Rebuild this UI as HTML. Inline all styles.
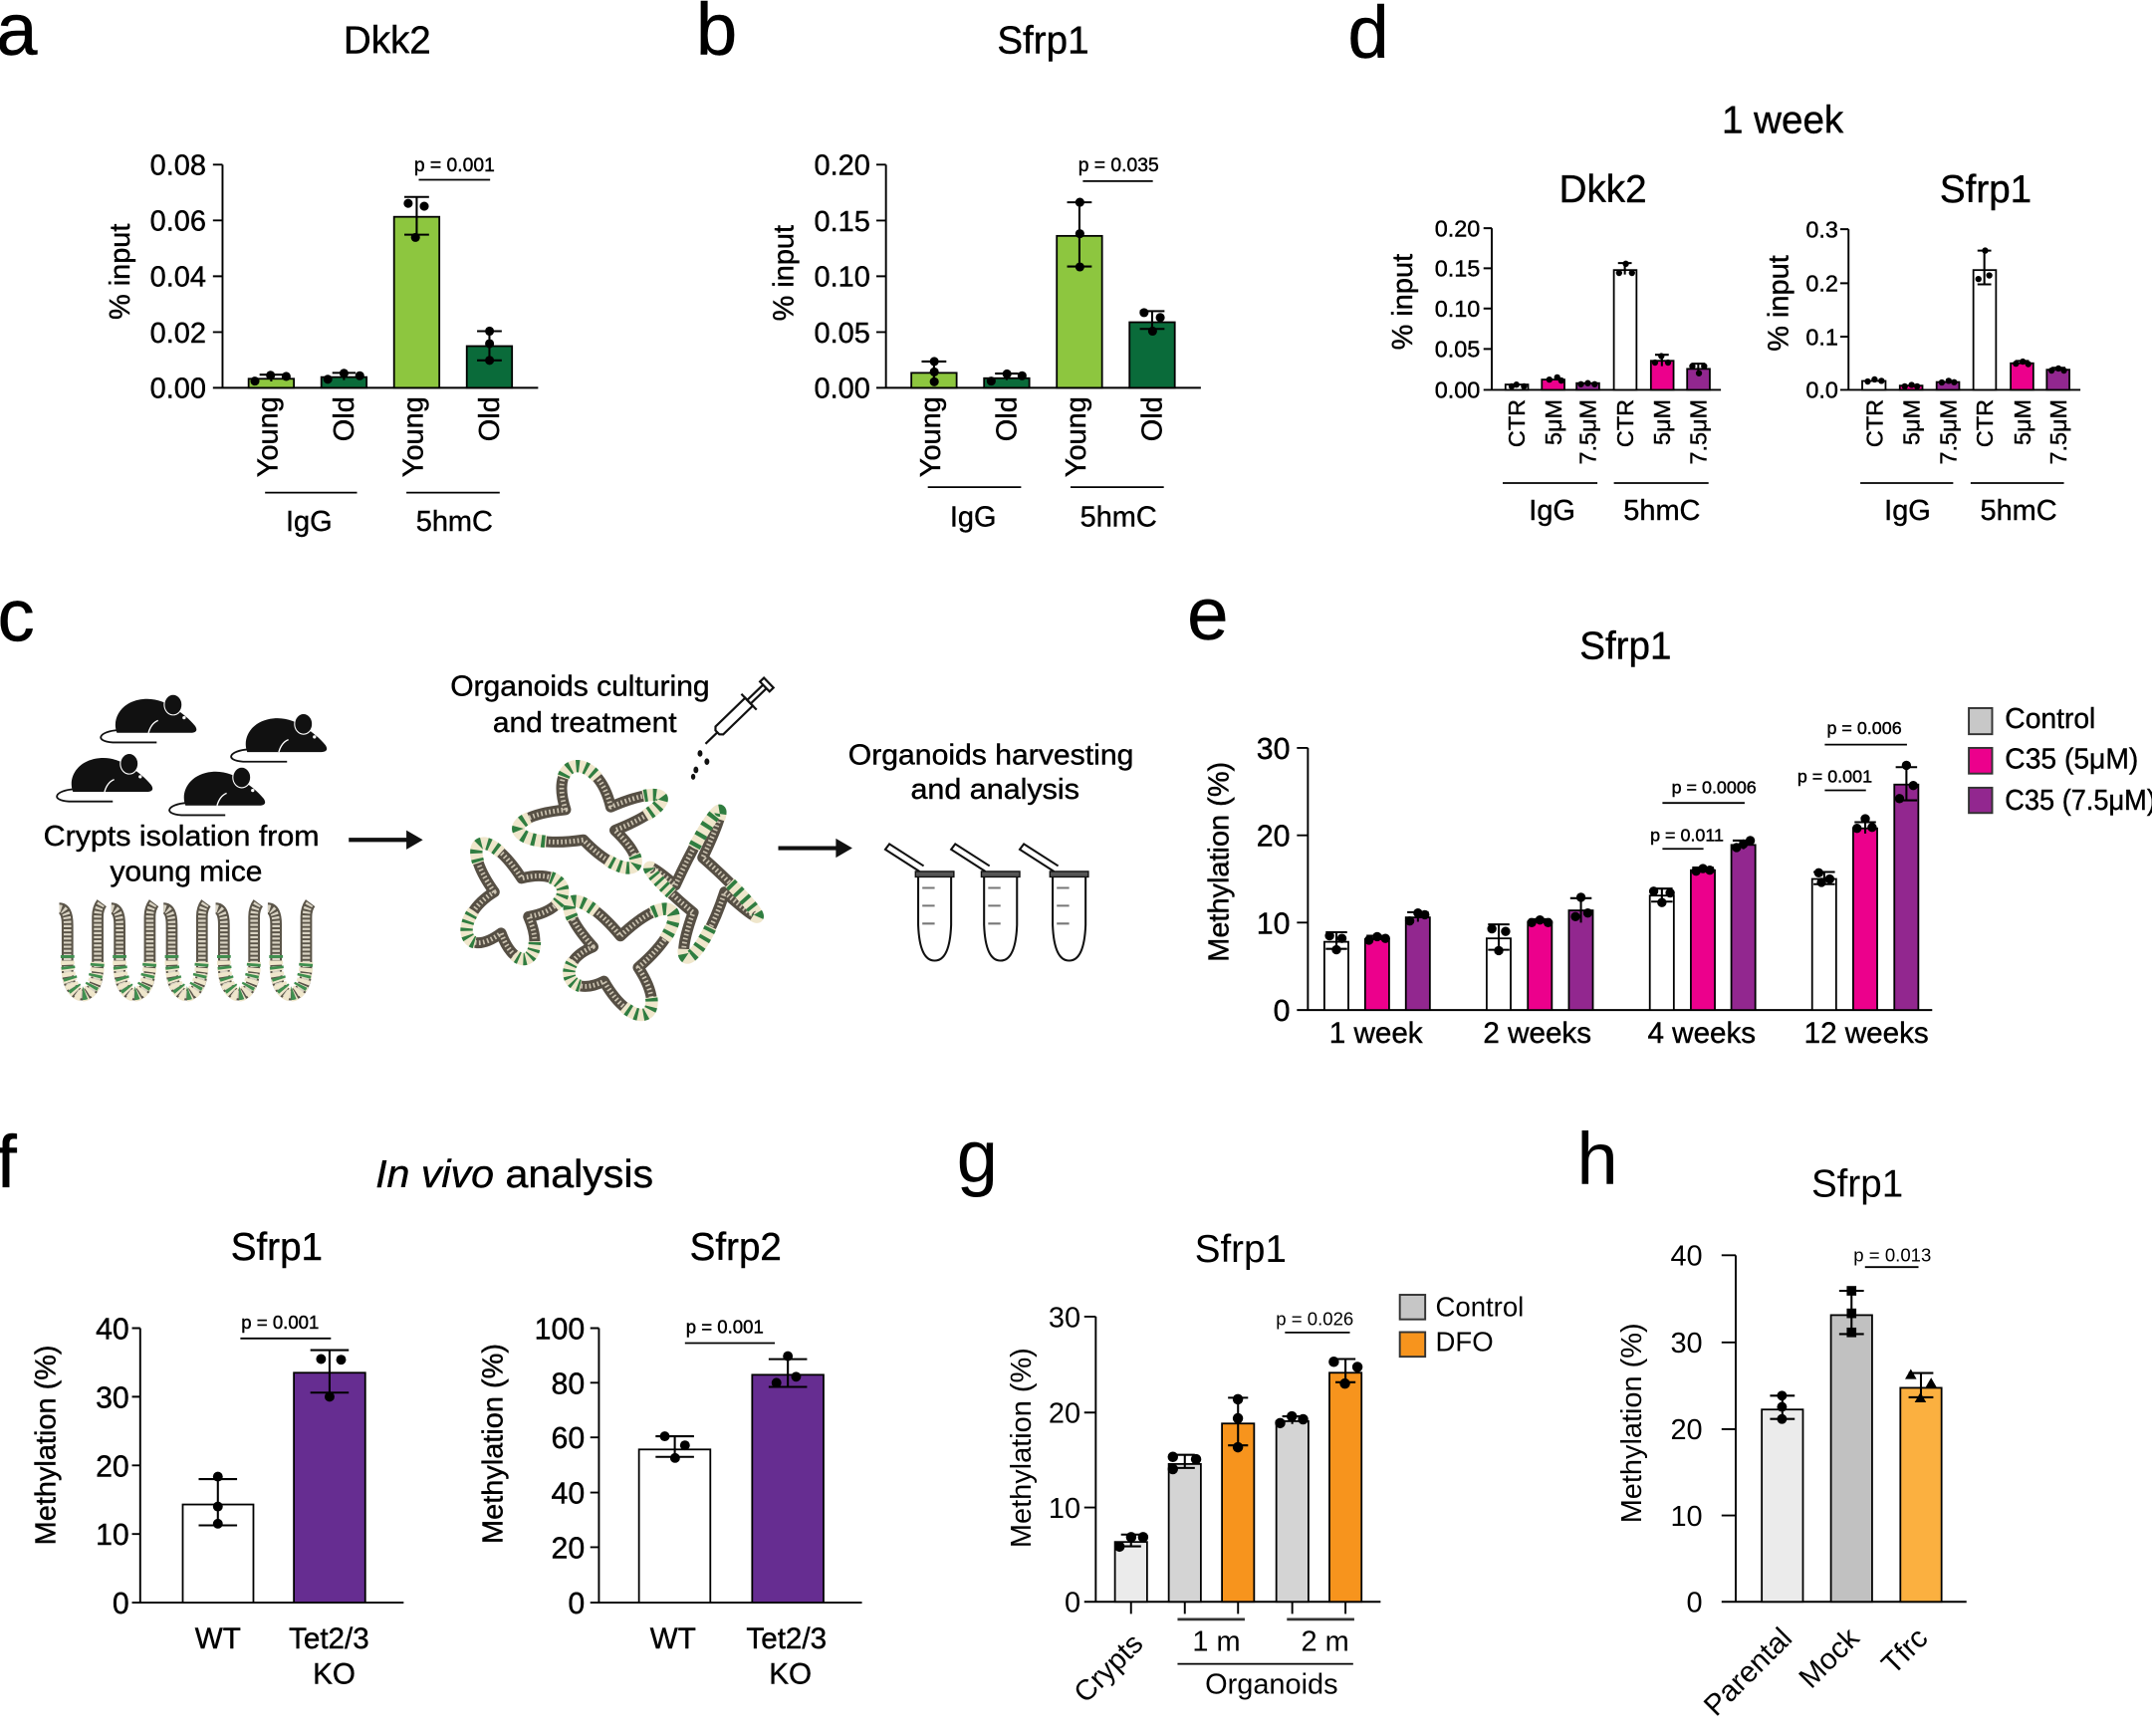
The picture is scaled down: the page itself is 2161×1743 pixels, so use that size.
<!DOCTYPE html>
<html><head><meta charset="utf-8">
<style>
html,body{margin:0;padding:0;background:#fff}
svg{display:block}
.ax{stroke:#000;stroke-width:1.4;fill:none}
.bar{stroke:#000;stroke-width:1.3}
.eb{stroke:#000;stroke-width:1.5;fill:none}
.thin{stroke:#000;stroke-width:1.3;fill:none}
text{fill:#000}
.cd text{stroke:#000;stroke-width:0.3}
</style></head>
<body>
<svg xmlns="http://www.w3.org/2000/svg" width="2161" height="1743" viewBox="0 0 1568 1265" font-family="'Liberation Sans', Arial, Helvetica, sans-serif">
<defs>
  <g id="mouse">
    <path d="M6,24 C-8,25 -12,32 2,33 L34,33" stroke="#111" stroke-width="1.3" fill="none"/>
    <path d="M5,26 C1,16 8,3 24,1.5 C33,0.5 41,4 47,8 C53,12 58,16 62,21 C64,24 63,26 59,26 Z" fill="#111"/>
    <ellipse cx="46" cy="5.5" rx="6.5" ry="7.5" fill="#111" stroke="#fff" stroke-width="0.8"/>
    <circle cx="54" cy="15" r="1.2" fill="#fff"/>
    <path d="M28,26 Q30,19 35,17" stroke="#fff" stroke-width="1" fill="none"/>
  </g>
  <g id="crypt" fill="none">
    <path d="M-6,662 Q0,662 0,674 L0,706 C0,731 22,731 22,706 L22,668 Q22,662 25,658" stroke="#5b5549" stroke-width="8.5"/>
    <path d="M-6,662 Q0,662 0,674 L0,706 C0,731 22,731 22,706 L22,668 Q22,662 25,658" stroke="#d9d3c3" stroke-width="5.5" stroke-dasharray="1.6 1.4"/>
    <path d="M0,700 C0,733 22,733 22,700" stroke="#efe6cb" stroke-width="10" stroke-dasharray="3 1.2"/>
    <path d="M0,696 C0,733 22,733 22,696" stroke="#3f8f4f" stroke-width="10" stroke-dasharray="2 6"/>
  </g>
  <g id="tube">
    <path d="M0,639 L0,674 Q1,700 12,700 Q23,700 24,674 L24,639" fill="#fff" stroke="#111" stroke-width="1.5"/>
    <path d="M1,635 L-24,619 L-21,615 L4,631" fill="#fff" stroke="#111" stroke-width="1.5"/>
    <rect x="-2" y="635" width="28" height="4" fill="#555" stroke="#111" stroke-width="1"/>
    <path d="M3,647 H12 M3,660 H12 M3,673 H12" stroke="#777" stroke-width="1.5"/>
  </g>
  <path id="o1" d="M412,590 C398.8,549.1 435.2,546.9 445,588 C492.4,567.7 495.7,586.4 448,605 C480.7,636.2 455.4,643.9 425,612 C371.7,619.8 357.4,595.6 412,590 Z"/>
  <path id="o2" d="M360,650 C332,610.5 354,599.5 380,640 C416.3,630.6 421.8,661.4 385,668 C399,699.4 377,712.6 365,680 C335.3,701.5 329.8,668.5 360,650 Z"/>
  <path id="o3" d="M492,645 C517.7,588.7 539.7,566.7 512,625 C552.2,660.3 569.8,687.8 528,650 C511.2,701.8 485.9,718.3 505,665 C473.2,639 458.9,617 492,645 Z"/>
  <path id="o4" d="M432,690 C397.7,651.7 419.7,642.9 452,682 C493.4,642.9 507.7,668.2 465,705 C489.8,743.2 462.3,754.2 440,715 C412.4,728.8 403.6,701.3 432,690 Z"/>
</defs>

<g class="cd">
<!-- ================= Panel a ================= -->
<text x="-3" y="40" font-size="54">a</text>
<text x="282" y="39" font-size="28" text-anchor="middle">Dkk2</text>
<path class="ax" d="M162,120 V282.6 M155,282.6 H392 M155,120 H162 M155,160.6 H162 M155,201.3 H162 M155,242 H162"/>
<g font-size="21" text-anchor="end">
  <text x="150" y="127.5">0.08</text>
  <text x="150" y="168.1">0.06</text>
  <text x="150" y="208.8">0.04</text>
  <text x="150" y="249.5">0.02</text>
  <text x="150" y="290.1">0.00</text>
</g>
<text transform="translate(94,198) rotate(-90)" font-size="21" text-anchor="middle">% input</text>
<rect class="bar" x="181" y="276" width="33" height="6.6" fill="#8dc63f"/>
<rect class="bar" x="234" y="274.8" width="33" height="7.8" fill="#0a6b3a"/>
<rect class="bar" x="287" y="158" width="33" height="124.6" fill="#8dc63f"/>
<rect class="bar" x="340" y="252.2" width="33" height="30.4" fill="#0a6b3a"/>
<path class="eb" d="M197.5,273 V278 M189,273 H206 M250.5,271.7 V277 M242,271.7 H259 M303.5,143.5 V171 M294.5,143.5 H312.5 M294.5,171 H312.5 M356.5,241.3 V262.6 M347.5,241.3 H365.5 M347.5,262.6 H365.5"/>
<g fill="#000">
  <circle cx="185.6" cy="277.7" r="3.3"/><circle cx="197" cy="273.5" r="3.3"/><circle cx="208.4" cy="274.3" r="3.3"/>
  <circle cx="238.7" cy="276.4" r="3.3"/><circle cx="250.5" cy="272" r="3.3"/><circle cx="262" cy="273.8" r="3.3"/>
  <circle cx="297.3" cy="148.2" r="3.3"/><circle cx="309" cy="150.3" r="3.3"/><circle cx="302.6" cy="173" r="3.3"/>
  <circle cx="356.6" cy="241.3" r="3.3"/><circle cx="356.6" cy="250.4" r="3.3"/><circle cx="356.6" cy="262.6" r="3.3"/>
</g>
<text x="331" y="125" font-size="14" text-anchor="middle">p = 0.001</text>
<path class="thin" d="M305,131 H357"/>
<g font-size="21" text-anchor="end">
  <text transform="translate(202,289) rotate(-90)">Young</text>
  <text transform="translate(257.5,289) rotate(-90)">Old</text>
  <text transform="translate(308,289) rotate(-90)">Young</text>
  <text transform="translate(363.5,289) rotate(-90)">Old</text>
</g>
<path class="thin" d="M193,359 H260 M296,359 H364"/>
<text x="225" y="387" font-size="21" text-anchor="middle">IgG</text>
<text x="331" y="387" font-size="21" text-anchor="middle">5hmC</text>

<!-- ================= Panel b ================= -->
<text x="507" y="40" font-size="54">b</text>
<text x="760" y="39" font-size="28" text-anchor="middle">Sfrp1</text>
<path class="ax" d="M645.5,120 V282.6 M638.5,282.6 H875 M638.5,120 H645.5 M638.5,160.7 H645.5 M638.5,201.3 H645.5 M638.5,242 H645.5"/>
<g font-size="21" text-anchor="end">
  <text x="634" y="127.5">0.20</text>
  <text x="634" y="168.2">0.15</text>
  <text x="634" y="208.8">0.10</text>
  <text x="634" y="249.5">0.05</text>
  <text x="634" y="290.1">0.00</text>
</g>
<text transform="translate(578,199) rotate(-90)" font-size="21" text-anchor="middle">% input</text>
<rect class="bar" x="664" y="271.7" width="33" height="10.9" fill="#8dc63f"/>
<rect class="bar" x="717" y="275.6" width="33" height="7" fill="#0a6b3a"/>
<rect class="bar" x="770" y="171.9" width="33" height="110.7" fill="#8dc63f"/>
<rect class="bar" x="823" y="234.8" width="33" height="47.8" fill="#0a6b3a"/>
<path class="eb" d="M680.5,263.4 V278 M671.5,263.4 H689.5 M733.5,272.2 V277 M725,272.2 H742 M786.5,147.4 V194.2 M777.5,147.4 H795.5 M777.5,194.2 H795.5 M839.5,226.7 V239.7 M830.5,226.7 H848.5 M830.5,239.7 H848.5"/>
<g fill="#000">
  <circle cx="680.7" cy="263.4" r="3.3"/><circle cx="680.7" cy="271" r="3.3"/><circle cx="680.7" cy="278.2" r="3.3"/>
  <circle cx="722.2" cy="277.7" r="3.3"/><circle cx="733.7" cy="272.5" r="3.3"/><circle cx="744.7" cy="273.8" r="3.3"/>
  <circle cx="786.8" cy="147.4" r="3.3"/><circle cx="786.8" cy="170.3" r="3.3"/><circle cx="786.8" cy="194.5" r="3.3"/>
  <circle cx="833.6" cy="227.8" r="3.3"/><circle cx="845.4" cy="231.4" r="3.3"/><circle cx="839.8" cy="241.3" r="3.3"/>
</g>
<text x="815" y="125" font-size="14" text-anchor="middle">p = 0.035</text>
<path class="thin" d="M789,132 H840"/>
<g font-size="21" text-anchor="end">
  <text transform="translate(685,289) rotate(-90)">Young</text>
  <text transform="translate(740.5,289) rotate(-90)">Old</text>
  <text transform="translate(791,289) rotate(-90)">Young</text>
  <text transform="translate(846.5,289) rotate(-90)">Old</text>
</g>
<path class="thin" d="M676,355 H744 M780,355 H848"/>
<text x="709" y="383.5" font-size="21" text-anchor="middle">IgG</text>
<text x="815" y="383.5" font-size="21" text-anchor="middle">5hmC</text>

<!-- ================= Panel d ================= -->
<text x="982" y="42" font-size="54">d</text>
<text x="1299" y="97" font-size="28" text-anchor="middle">1 week</text>
<text x="1168" y="147.5" font-size="28" text-anchor="middle">Dkk2</text>
<text x="1447" y="147.5" font-size="28" text-anchor="middle">Sfrp1</text>
<!-- Dkk2 -->
<path class="ax" d="M1087,166.3 V284.1 M1081,284.1 H1254 M1081,166.3 H1087 M1081,195.5 H1087 M1081,224.8 H1087 M1081,254.3 H1087"/>
<g font-size="17" text-anchor="end">
  <text x="1078.5" y="172.3">0.20</text>
  <text x="1078.5" y="201.5">0.15</text>
  <text x="1078.5" y="230.8">0.10</text>
  <text x="1078.5" y="260.3">0.05</text>
  <text x="1078.5" y="290.1">0.00</text>
</g>
<text transform="translate(1029,220) rotate(-90)" font-size="21" text-anchor="middle">% input</text>
<rect class="bar" x="1097" y="280.2" width="16.5" height="3.9" fill="#fff"/>
<rect class="bar" x="1123.5" y="276.6" width="16.5" height="7.5" fill="#ec008c"/>
<rect class="bar" x="1148.8" y="279.2" width="16.5" height="4.9" fill="#92278f"/>
<rect class="bar" x="1176" y="196.8" width="16.5" height="87.3" fill="#fff"/>
<rect class="bar" x="1203" y="262.9" width="16.5" height="21.2" fill="#ec008c"/>
<rect class="bar" x="1229.4" y="268.8" width="16.5" height="15.3" fill="#92278f"/>
<path class="eb" d="M1179,191.7 H1189 M1184,191.7 V200 M1206,258.5 H1216 M1211,258.5 V266.8 M1232.5,265 H1242.5 M1237.5,265 V272"/>
<g fill="#000">
  <circle cx="1101.5" cy="281.5" r="2.3"/><circle cx="1105" cy="280.3" r="2.3"/><circle cx="1110.5" cy="281.5" r="2.3"/>
  <circle cx="1129" cy="276.6" r="2.3"/><circle cx="1134.7" cy="275" r="2.3"/><circle cx="1137.7" cy="277.3" r="2.3"/>
  <circle cx="1152" cy="280" r="2.3"/><circle cx="1157" cy="279.2" r="2.3"/><circle cx="1162" cy="280" r="2.3"/>
  <circle cx="1179.8" cy="198.9" r="2.3"/><circle cx="1184.7" cy="192.2" r="2.3"/><circle cx="1189.2" cy="198.9" r="2.3"/>
  <circle cx="1206" cy="264.2" r="2.3"/><circle cx="1210.6" cy="259.5" r="2.3"/><circle cx="1215.5" cy="264.2" r="2.3"/>
  <circle cx="1233.2" cy="266.8" r="2.3"/><circle cx="1238" cy="272" r="2.3"/><circle cx="1241.8" cy="266.8" r="2.3"/>
</g>
<g font-size="17" text-anchor="end">
  <text transform="translate(1111,291) rotate(-90)">CTR</text>
  <text transform="translate(1137.7,291) rotate(-90)">5μM</text>
  <text transform="translate(1163,291) rotate(-90)">7.5μM</text>
  <text transform="translate(1190,291) rotate(-90)">CTR</text>
  <text transform="translate(1217,291) rotate(-90)">5μM</text>
  <text transform="translate(1243.5,291) rotate(-90)">7.5μM</text>
</g>
<path class="thin" d="M1095,352 H1164 M1176,352 H1245"/>
<text x="1131" y="379" font-size="21" text-anchor="middle">IgG</text>
<text x="1211" y="379" font-size="21" text-anchor="middle">5hmC</text>
<!-- Sfrp1 -->
<path class="ax" d="M1347,167 V284.1 M1341,284.1 H1516 M1341,167 H1347 M1341,206.4 H1347 M1341,245.3 H1347"/>
<g font-size="17" text-anchor="end">
  <text x="1339.5" y="173">0.3</text>
  <text x="1339.5" y="212.4">0.2</text>
  <text x="1339.5" y="251.3">0.1</text>
  <text x="1339.5" y="290.1">0.0</text>
</g>
<text transform="translate(1303,221) rotate(-90)" font-size="21" text-anchor="middle">% input</text>
<rect class="bar" x="1357" y="277.6" width="17" height="6.5" fill="#fff"/>
<rect class="bar" x="1384.4" y="281" width="16.5" height="3.1" fill="#ec008c"/>
<rect class="bar" x="1411.2" y="278.4" width="16.5" height="5.7" fill="#92278f"/>
<rect class="bar" x="1438" y="196.8" width="16.5" height="87.3" fill="#fff"/>
<rect class="bar" x="1465.2" y="264.7" width="16.5" height="19.4" fill="#ec008c"/>
<rect class="bar" x="1491.5" y="269.4" width="16.5" height="14.7" fill="#92278f"/>
<path class="eb" d="M1441,182.6 H1451 M1446,182.6 V207.2 M1441,207.2 H1451 M1468.5,263 H1478.5 M1495,268 H1505"/>
<g fill="#000">
  <circle cx="1361" cy="278" r="2.3"/><circle cx="1366" cy="276.5" r="2.3"/><circle cx="1371" cy="277.5" r="2.3"/>
  <circle cx="1388" cy="281.5" r="2.3"/><circle cx="1393" cy="280.5" r="2.3"/><circle cx="1397" cy="281.5" r="2.3"/>
  <circle cx="1415" cy="278.7" r="2.3"/><circle cx="1420" cy="277.5" r="2.3"/><circle cx="1424" cy="278.5" r="2.3"/>
  <circle cx="1446.6" cy="182.6" r="2.3"/><circle cx="1441.7" cy="203.3" r="2.3"/><circle cx="1449.6" cy="200.7" r="2.3"/>
  <circle cx="1469" cy="265" r="2.3"/><circle cx="1474" cy="263.5" r="2.3"/><circle cx="1478" cy="265.3" r="2.3"/>
  <circle cx="1495" cy="270" r="2.3"/><circle cx="1500" cy="268.5" r="2.3"/><circle cx="1504" cy="270" r="2.3"/>
</g>
<g font-size="17" text-anchor="end">
  <text transform="translate(1371.7,291) rotate(-90)">CTR</text>
  <text transform="translate(1398.6,291) rotate(-90)">5μM</text>
  <text transform="translate(1425.5,291) rotate(-90)">7.5μM</text>
  <text transform="translate(1452.2,291) rotate(-90)">CTR</text>
  <text transform="translate(1479.5,291) rotate(-90)">5μM</text>
  <text transform="translate(1505.8,291) rotate(-90)">7.5μM</text>
</g>
<path class="thin" d="M1355.6,352 H1423.3 M1436,352 H1504"/>
<text x="1390" y="379" font-size="21" text-anchor="middle">IgG</text>
<text x="1471" y="379" font-size="21" text-anchor="middle">5hmC</text>

<!-- ================= Panel c ================= -->
<text x="-2" y="467" font-size="54">c</text>
<use href="#mouse" transform="translate(80,508)"/>
<use href="#mouse" transform="translate(175,522)"/>
<use href="#mouse" transform="translate(48,551)"/>
<use href="#mouse" transform="translate(130,561)"/>
<text x="132" y="616" font-size="21" text-anchor="middle" textLength="201" lengthAdjust="spacingAndGlyphs">Crypts isolation from</text>
<text x="135.5" y="642" font-size="21" text-anchor="middle" textLength="111" lengthAdjust="spacingAndGlyphs">young mice</text>
<use href="#crypt" transform="translate(49,0)"/>
<use href="#crypt" transform="translate(87,0)"/>
<use href="#crypt" transform="translate(125,0)"/>
<use href="#crypt" transform="translate(163,0)"/>
<use href="#crypt" transform="translate(201,0)"/>
<path d="M254,612 H298" stroke="#111" stroke-width="3"/>
<path d="M296,605 L308,612 L296,619 Z" fill="#111"/>
<text x="422.5" y="507" font-size="21" text-anchor="middle" textLength="189" lengthAdjust="spacingAndGlyphs">Organoids culturing</text>
<text x="426" y="533.5" font-size="21" text-anchor="middle" textLength="134" lengthAdjust="spacingAndGlyphs">and treatment</text>
<!-- pipette -->
<g transform="translate(514,542) rotate(-44)" stroke="#111" stroke-width="1.6" fill="#fff">
  <line x1="0" y1="0" x2="12" y2="0"/>
  <path d="M12,-2 L14,-4 L44,-4 L44,4 L14,4 L12,2 Z"/>
  <line x1="44" y1="-8" x2="44" y2="8"/>
  <rect x="44" y="-1.8" width="16" height="3.6"/>
  <rect x="60" y="-5" width="4" height="10"/>
</g>
<g fill="#111">
  <ellipse cx="510" cy="549" rx="1.8" ry="2.4"/>
  <ellipse cx="515" cy="555" rx="1.8" ry="2.4"/>
  <ellipse cx="507" cy="561" rx="1.8" ry="2.4"/>
  <ellipse cx="505" cy="566" rx="1.6" ry="2.2"/>
</g>
<!-- organoids -->
<g fill="#fff" stroke-linejoin="round" stroke="#564f44" stroke-width="8">
  <use href="#o1"/><use href="#o2"/><use href="#o3"/><use href="#o4"/>
</g>
<g fill="none" stroke-linejoin="round" stroke="#cbc3b1" stroke-width="3.5" stroke-dasharray="1.2 1.8">
  <use href="#o1"/><use href="#o2"/><use href="#o3"/><use href="#o4"/>
</g>
<g fill="none" stroke="#efe6cb" stroke-width="9" stroke-dasharray="0 30 40 100">
  <path pathLength="100" d="M412,590 C398.8,549.1 435.2,546.9 445,588"/>
  <path pathLength="100" d="M445,588 C492.4,567.7 495.7,586.4 448,605"/>
  <path pathLength="100" d="M448,605 C480.7,636.2 455.4,643.9 425,612"/>
  <path pathLength="100" d="M425,612 C371.7,619.8 357.4,595.6 412,590"/>
  <path pathLength="100" d="M360,650 C332,610.5 354,599.5 380,640"/>
  <path pathLength="100" d="M380,640 C416.3,630.6 421.8,661.4 385,668"/>
  <path pathLength="100" d="M385,668 C399,699.4 377,712.6 365,680"/>
  <path pathLength="100" d="M365,680 C335.3,701.5 329.8,668.5 360,650"/>
  <path pathLength="100" d="M492,645 C517.7,588.7 539.7,566.7 512,625"/>
  <path pathLength="100" d="M512,625 C552.2,660.3 569.8,687.8 528,650"/>
  <path pathLength="100" d="M528,650 C511.2,701.8 485.9,718.3 505,665"/>
  <path pathLength="100" d="M505,665 C473.2,639 458.9,617 492,645"/>
  <path pathLength="100" d="M432,690 C397.7,651.7 419.7,642.9 452,682"/>
  <path pathLength="100" d="M452,682 C493.4,642.9 507.7,668.2 465,705"/>
  <path pathLength="100" d="M465,705 C489.8,743.2 462.3,754.2 440,715"/>
  <path pathLength="100" d="M440,715 C412.4,728.8 403.6,701.3 432,690"/>
</g>
<g fill="none" stroke="#2f7d40" stroke-width="9" stroke-dasharray="0 31 3 5 3 5 3 5 3 5 3 100">
  <path pathLength="100" d="M412,590 C398.8,549.1 435.2,546.9 445,588"/>
  <path pathLength="100" d="M445,588 C492.4,567.7 495.7,586.4 448,605"/>
  <path pathLength="100" d="M448,605 C480.7,636.2 455.4,643.9 425,612"/>
  <path pathLength="100" d="M425,612 C371.7,619.8 357.4,595.6 412,590"/>
  <path pathLength="100" d="M360,650 C332,610.5 354,599.5 380,640"/>
  <path pathLength="100" d="M380,640 C416.3,630.6 421.8,661.4 385,668"/>
  <path pathLength="100" d="M385,668 C399,699.4 377,712.6 365,680"/>
  <path pathLength="100" d="M365,680 C335.3,701.5 329.8,668.5 360,650"/>
  <path pathLength="100" d="M492,645 C517.7,588.7 539.7,566.7 512,625"/>
  <path pathLength="100" d="M512,625 C552.2,660.3 569.8,687.8 528,650"/>
  <path pathLength="100" d="M528,650 C511.2,701.8 485.9,718.3 505,665"/>
  <path pathLength="100" d="M505,665 C473.2,639 458.9,617 492,645"/>
  <path pathLength="100" d="M432,690 C397.7,651.7 419.7,642.9 452,682"/>
  <path pathLength="100" d="M452,682 C493.4,642.9 507.7,668.2 465,705"/>
  <path pathLength="100" d="M465,705 C489.8,743.2 462.3,754.2 440,715"/>
  <path pathLength="100" d="M440,715 C412.4,728.8 403.6,701.3 432,690"/>
</g>
<path d="M567,618 H611" stroke="#111" stroke-width="3"/>
<path d="M609,611 L621,618 L609,625 Z" fill="#111"/>
<text x="722" y="557" font-size="21" text-anchor="middle" textLength="208" lengthAdjust="spacingAndGlyphs">Organoids harvesting</text>
<text x="725" y="582" font-size="21" text-anchor="middle" textLength="123" lengthAdjust="spacingAndGlyphs">and analysis</text>
<use href="#tube" transform="translate(669,0)"/>
<use href="#tube" transform="translate(717,0)"/>
<use href="#tube" transform="translate(767,0)"/>

<!-- ================= Panel e ================= -->
<text x="865" y="466" font-size="54">e</text>
<text x="1184.5" y="480" font-size="28" text-anchor="middle">Sfrp1</text>
<path class="ax" d="M953,545 V736 M945,736 H1408 M945,545 H953 M945,608.7 H953 M945,672.3 H953"/>
<g font-size="22" text-anchor="end">
  <text x="940" y="553">30</text>
  <text x="940" y="616.7">20</text>
  <text x="940" y="680.3">10</text>
  <text x="940" y="744">0</text>
</g>
<text transform="translate(895,628) rotate(-90)" font-size="21" text-anchor="middle">Methylation (%)</text>
<g class="bar">
  <rect x="965" y="686.3" width="17.5" height="49.7" fill="#fff"/>
  <rect x="994.7" y="684.4" width="17.5" height="51.6" fill="#ec008c"/>
  <rect x="1024.4" y="668.5" width="17.5" height="67.5" fill="#92278f"/>
  <rect x="1083.3" y="683.8" width="17.5" height="52.2" fill="#fff"/>
  <rect x="1113.3" y="671.7" width="17.5" height="64.3" fill="#ec008c"/>
  <rect x="1143.2" y="663.4" width="17.5" height="72.6" fill="#92278f"/>
  <rect x="1202.2" y="652.6" width="17.5" height="83.4" fill="#fff"/>
  <rect x="1232.1" y="634.1" width="17.5" height="101.9" fill="#ec008c"/>
  <rect x="1261.6" y="615.7" width="17.5" height="120.3" fill="#92278f"/>
  <rect x="1320.5" y="640.5" width="17.5" height="95.5" fill="#fff"/>
  <rect x="1350.4" y="603.6" width="17.5" height="132.4" fill="#ec008c"/>
  <rect x="1380.4" y="571.7" width="17.5" height="164.3" fill="#92278f"/>
</g>
<path class="eb" d="
M973.8,679.3 V691.4 M966,679.3 H981.6 M966,691.4 H981.6
M1003.5,681.9 V685.7 M995.7,681.9 H1011.3
M1033.2,664.7 V671.7 M1025.4,664.7 H1041
M1092.1,673.6 V692.1 M1084.3,673.6 H1099.9 M1084.3,692.1 H1099.9
M1122.1,669.8 V673.6 M1114.3,669.8 H1129.9
M1152,654.5 V672.3 M1144.2,654.5 H1159.8
M1211,647.5 V657 M1203.2,647.5 H1218.8 M1203.2,657 H1218.8
M1240.9,632.2 V635.4 M1233.1,632.2 H1248.7
M1270.4,612.5 V618.8 M1262.6,612.5 H1278.2
M1329.3,635.4 V644.3 M1321.5,635.4 H1337.1 M1321.5,644.3 H1337.1
M1359.2,599.1 V607.4 M1351.4,599.1 H1367
M1389.2,559 V583.2 M1381.4,559 H1397 M1381.4,583.2 H1397"/>
<g fill="#000">
  <circle cx="968.8" cy="681.9" r="3.4"/><circle cx="977.8" cy="683.8" r="3.4"/><circle cx="973.8" cy="692.1" r="3.4"/>
  <circle cx="997.5" cy="685.1" r="3.4"/><circle cx="1003.5" cy="682.5" r="3.4"/><circle cx="1009.5" cy="683.8" r="3.4"/>
  <circle cx="1027.2" cy="671.1" r="3.4"/><circle cx="1033.2" cy="665.3" r="3.4"/><circle cx="1038.2" cy="666.6" r="3.4"/>
  <circle cx="1087.1" cy="676.8" r="3.4"/><circle cx="1097.1" cy="678.7" r="3.4"/><circle cx="1092.1" cy="692.7" r="3.4"/>
  <circle cx="1116.1" cy="672.3" r="3.4"/><circle cx="1122.1" cy="670.4" r="3.4"/><circle cx="1128.1" cy="672.3" r="3.4"/>
  <circle cx="1152" cy="653.9" r="3.4"/><circle cx="1157" cy="665.3" r="3.4"/><circle cx="1148" cy="667.9" r="3.4"/>
  <circle cx="1205" cy="649.4" r="3.4"/><circle cx="1217" cy="650.7" r="3.4"/><circle cx="1211" cy="657.7" r="3.4"/>
  <circle cx="1235.9" cy="634.8" r="3.4"/><circle cx="1240.9" cy="632.9" r="3.4"/><circle cx="1245.9" cy="634.1" r="3.4"/>
  <circle cx="1265.4" cy="617.6" r="3.4"/><circle cx="1270.4" cy="615" r="3.4"/><circle cx="1275.4" cy="612.5" r="3.4"/>
  <circle cx="1325.3" cy="636" r="3.4"/><circle cx="1333.3" cy="640.5" r="3.4"/><circle cx="1327.3" cy="643" r="3.4"/>
  <circle cx="1353.2" cy="603.6" r="3.4"/><circle cx="1359.2" cy="596.6" r="3.4"/><circle cx="1364.2" cy="602.9" r="3.4"/>
  <circle cx="1389.2" cy="557.7" r="3.4"/><circle cx="1394.2" cy="572.4" r="3.4"/><circle cx="1384.2" cy="581.9" r="3.4"/>
</g>
<g font-size="13" text-anchor="middle">
  <text x="1229.3" y="613">p = 0.011</text>
  <text x="1249" y="578">p = 0.0006</text>
  <text x="1337" y="570">p = 0.001</text>
  <text x="1358.5" y="535">p = 0.006</text>
</g>
<path class="thin" d="M1211.4,618.5 H1241.3 M1211.4,585.1 H1271.3 M1329.7,575.9 H1359.7 M1329.7,542.6 H1389.6"/>
<g font-size="21.5" text-anchor="middle">
  <text x="1002.6" y="760">1 week</text>
  <text x="1120.2" y="760">2 weeks</text>
  <text x="1240" y="760">4 weeks</text>
  <text x="1360" y="760">12 weeks</text>
</g>
<rect x="1434.7" y="516" width="17" height="19" fill="#c8c8c8" stroke="#333" stroke-width="1.4"/>
<rect x="1434.7" y="545" width="17" height="18.7" fill="#ec008c" stroke="#333" stroke-width="1.4"/>
<rect x="1434.7" y="574" width="17" height="18.4" fill="#92278f" stroke="#333" stroke-width="1.4"/>
<g font-size="20.5">
  <text x="1461" y="530.4">Control</text>
  <text x="1461" y="560">C35 (5μM)</text>
  <text x="1461" y="590" textLength="110" lengthAdjust="spacingAndGlyphs">C35 (7.5μM)</text>
</g>

<!-- ================= Panel f ================= -->
<text x="-3" y="865" font-size="54">f</text>
<text x="273.5" y="865" font-size="28.5" textLength="202.5" lengthAdjust="spacingAndGlyphs"><tspan font-style="italic">In vivo</tspan> analysis</text>
<text x="201.5" y="918" font-size="28" text-anchor="middle">Sfrp1</text>
<text x="536" y="918" font-size="28" text-anchor="middle">Sfrp2</text>
<!-- Sfrp1 -->
<path class="ax" d="M102,967.8 V1167.8 M96,1167.8 H294 M96,967.8 H102 M96,1017.8 H102 M96,1067.8 H102 M96,1117.8 H102"/>
<g font-size="22" text-anchor="end">
  <text x="94" y="975.8">40</text>
  <text x="94" y="1025.8">30</text>
  <text x="94" y="1075.8">20</text>
  <text x="94" y="1125.8">10</text>
  <text x="94" y="1175.8">0</text>
</g>
<text transform="translate(40,1053) rotate(-90)" font-size="21" text-anchor="middle">Methylation (%)</text>
<rect class="bar" x="133" y="1096.3" width="51.5" height="71.5" fill="#fff"/>
<rect class="bar" x="214" y="1000.3" width="52" height="167.5" fill="#662d91"/>
<path class="eb" d="M158.6,1077.8 V1111.5 M144.6,1077.8 H172.6 M144.6,1111.5 H172.6 M240,983.8 V1014.8 M226,983.8 H254 M226,1014.8 H254"/>
<g fill="#000">
  <circle cx="158.6" cy="1076" r="3.6"/><circle cx="158.6" cy="1097.8" r="3.6"/><circle cx="158.6" cy="1110.3" r="3.6"/>
  <circle cx="233.8" cy="990.3" r="3.6"/><circle cx="248.4" cy="990.8" r="3.6"/><circle cx="240" cy="1017.8" r="3.6"/>
</g>
<text x="204" y="968" font-size="13.5" text-anchor="middle">p = 0.001</text>
<path class="thin" d="M175,975.3 H241"/>
<g font-size="21.5" text-anchor="middle">
  <text x="158.6" y="1201">WT</text>
  <text x="239.6" y="1201">Tet2/3</text>
  <text x="243.3" y="1227">KO</text>
</g>
<!-- Sfrp2 -->
<path class="ax" d="M436.3,967.8 V1167.8 M430,1167.8 H628 M430,967.8 H436.3 M430,1007.6 H436.3 M430,1047.4 H436.3 M430,1087.6 H436.3 M430,1127.4 H436.3"/>
<g font-size="22" text-anchor="end">
  <text x="426" y="975.8">100</text>
  <text x="426" y="1015.6">80</text>
  <text x="426" y="1055.4">60</text>
  <text x="426" y="1095.6">40</text>
  <text x="426" y="1135.4">20</text>
  <text x="426" y="1175.8">0</text>
</g>
<text transform="translate(366,1052) rotate(-90)" font-size="21" text-anchor="middle">Methylation (%)</text>
<rect class="bar" x="465.5" y="1056.2" width="52" height="111.6" fill="#fff"/>
<rect class="bar" x="548" y="1001.8" width="52" height="166" fill="#662d91"/>
<path class="eb" d="M491.6,1046.6 V1061.6 M477.6,1046.6 H505.6 M477.6,1061.6 H505.6 M574,990.4 V1010.6 M560,990.4 H588 M560,1010.6 H588"/>
<g fill="#000">
  <circle cx="484.3" cy="1046.6" r="3.6"/><circle cx="499" cy="1053.2" r="3.6"/><circle cx="491.8" cy="1062.4" r="3.6"/>
  <circle cx="574" cy="988.2" r="3.6"/><circle cx="580" cy="1003.2" r="3.6"/><circle cx="565.7" cy="1007.6" r="3.6"/>
</g>
<text x="528" y="971.5" font-size="13.5" text-anchor="middle">p = 0.001</text>
<path class="thin" d="M499,978.7 H564.5"/>
<g font-size="21.5" text-anchor="middle">
  <text x="490.3" y="1201">WT</text>
  <text x="573" y="1201">Tet2/3</text>
  <text x="575.8" y="1227">KO</text>
</g>
</g>

<!-- ================= Panel g ================= -->
<text x="697" y="861" font-size="54">g</text>
<text x="904" y="919.6" font-size="28" text-anchor="middle">Sfrp1</text>
<path class="ax" d="M798.4,959.4 V1167.2 M790,1167.2 H1006 M790,959.4 H798.4 M790,1029.3 H798.4 M790,1098.5 H798.4 M824.1,1167.2 V1176 M863.3,1167.2 V1176 M902.1,1167.2 V1176 M941.6,1167.2 V1176 M980.4,1167.2 V1176"/>
<g font-size="21" text-anchor="end">
  <text x="787.3" y="967">30</text>
  <text x="787.3" y="1036.9">20</text>
  <text x="787.3" y="1106.1">10</text>
  <text x="787.3" y="1174.8">0</text>
</g>
<text transform="translate(751,1055) rotate(-90)" font-size="21" text-anchor="middle">Methylation (%)</text>
<g class="bar">
  <rect x="812.4" y="1123.6" width="23.4" height="43.6" fill="#ebebeb"/>
  <rect x="851.6" y="1066.8" width="23.4" height="100.4" fill="#d4d4d4"/>
  <rect x="890.4" y="1037.3" width="23.4" height="129.9" fill="#f7941d"/>
  <rect x="930" y="1035.6" width="23.4" height="131.6" fill="#d4d4d4"/>
  <rect x="968.7" y="1000.3" width="23.4" height="166.9" fill="#f7941d"/>
</g>
<path class="eb" d="
M824.1,1118.2 V1126.8 M816.8,1118.2 H831.4 M816.8,1126.8 H831.4
M863.3,1060.1 V1069.7 M856,1060.1 H870.6 M856,1069.7 H870.6
M902.1,1018.5 V1053.2 M894.8,1018.5 H909.4 M894.8,1053.2 H909.4
M941.6,1032.1 V1037.7 M934.3,1032.1 H948.9
M980.4,990.3 V1007.2 M973.1,990.3 H987.7 M973.1,1007.2 H987.7"/>
<g fill="#000">
  <circle cx="815.7" cy="1127" r="3.8"/><circle cx="824.2" cy="1120.1" r="3.8"/><circle cx="832.9" cy="1120.1" r="3.8"/>
  <circle cx="854.6" cy="1061.6" r="3.8"/><circle cx="854.6" cy="1070.5" r="3.8"/><circle cx="871.5" cy="1063.3" r="3.8"/>
  <circle cx="902" cy="1019.6" r="3.8"/><circle cx="902" cy="1033.5" r="3.8"/><circle cx="902" cy="1054.6" r="3.8"/>
  <circle cx="932.8" cy="1037" r="3.8"/><circle cx="941.3" cy="1032.1" r="3.8"/><circle cx="949.5" cy="1034.2" r="3.8"/>
  <circle cx="971.9" cy="992.3" r="3.8"/><circle cx="989.1" cy="996.1" r="3.8"/><circle cx="980" cy="1008.2" r="3.8"/>
</g>
<text x="958" y="965.8" font-size="13.5" text-anchor="middle">p = 0.026</text>
<path class="thin" d="M936.3,971 H983.6"/>
<path d="M858,1180 H907 M937.7,1180 H986.8" stroke="#333" stroke-width="2" fill="none"/>
<path class="thin" d="M858,1212.5 H986"/>
<g font-size="21" text-anchor="middle">
  <text x="886.3" y="1203">1 m</text>
  <text x="965.5" y="1203">2 m</text>
  <text x="926.5" y="1234">Organoids</text>
</g>
<text transform="translate(834,1199) rotate(-45)" font-size="21" text-anchor="end">Crypts</text>
<rect x="1020" y="943.5" width="18.5" height="17.9" fill="#c6c6c6" stroke="#333" stroke-width="1.4"/>
<rect x="1020" y="970.7" width="18.5" height="17.9" fill="#f7941d" stroke="#333" stroke-width="1.4"/>
<g font-size="20">
  <text x="1046" y="959">Control</text>
  <text x="1046" y="984.5">DFO</text>
</g>

<!-- ================= Panel h ================= -->
<text x="1149" y="863" font-size="54">h</text>
<text x="1353.4" y="872" font-size="28" text-anchor="middle">Sfrp1</text>
<path class="ax" d="M1264.8,914.7 V1167.2 M1254.5,1167.2 H1433 M1254.5,914.7 H1264.8 M1254.5,978.2 H1264.8 M1254.5,1041.4 H1264.8 M1254.5,1104.3 H1264.8"/>
<g font-size="21" text-anchor="end">
  <text x="1240.6" y="922.2">40</text>
  <text x="1240.6" y="985.7">30</text>
  <text x="1240.6" y="1048.9">20</text>
  <text x="1240.6" y="1111.8">10</text>
  <text x="1240.6" y="1174.7">0</text>
</g>
<text transform="translate(1196,1037) rotate(-90)" font-size="21" text-anchor="middle">Methylation (%)</text>
<g class="bar">
  <rect x="1283.8" y="1027.1" width="30" height="140.1" fill="#ebebeb"/>
  <rect x="1334.2" y="958.3" width="30" height="208.9" fill="#c1c1c1"/>
  <rect x="1384.8" y="1011.3" width="30" height="155.9" fill="#fbb040"/>
</g>
<path class="eb" d="
M1298.8,1017 V1034 M1289.8,1017 H1307.8 M1289.8,1034 H1307.8
M1349.2,940.6 V972.1 M1340.2,940.6 H1358.2 M1340.2,972.1 H1358.2
M1399.8,1000.5 V1018.2 M1390.8,1000.5 H1408.8 M1390.8,1018.2 H1408.8"/>
<g fill="#000">
  <circle cx="1298.5" cy="1017" r="3.6"/><circle cx="1298.5" cy="1025.2" r="3.6"/><circle cx="1298.5" cy="1034" r="3.6"/>
  <rect x="1345.7" y="937.1" width="7" height="7"/><rect x="1345.7" y="953.5" width="7" height="7"/><rect x="1345.7" y="967.4" width="7" height="7"/>
  <path d="M1392.4,997.6 L1396.6,1004.9 L1388.2,1004.9 Z"/>
  <path d="M1407.2,1003.9 L1411.4,1011.2 L1403,1011.2 Z"/>
  <path d="M1399.4,1014.6 L1403.6,1021.9 L1395.2,1021.9 Z"/>
</g>
<text x="1379" y="919" font-size="13.5" text-anchor="middle">p = 0.013</text>
<path class="thin" d="M1359,923.3 H1398"/>
<g font-size="21.5" text-anchor="end">
  <text transform="translate(1307,1195) rotate(-45)">Parental</text>
  <text transform="translate(1356,1195) rotate(-45)">Mock</text>
  <text transform="translate(1406,1195) rotate(-45)">Tfrc</text>
</g>
</svg>
</body></html>
